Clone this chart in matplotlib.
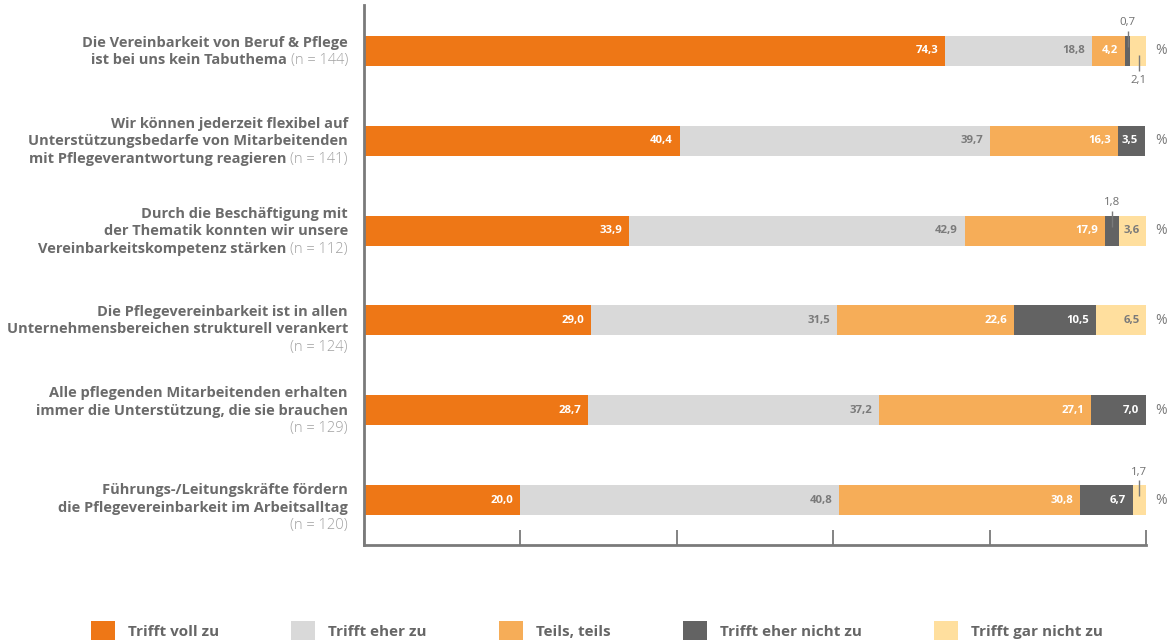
import matplotlib
matplotlib.use("Agg")
import matplotlib.pyplot as plt
from matplotlib.patches import Patch

# ---------------- data ----------------
label_lines = [
    ["Die Vereinbarkeit von Beruf & Pflege", "ist bei uns kein Tabuthema"],
    ["Wir können jederzeit flexibel auf", "Unterstützungsbedarfe von Mitarbeitenden",
     "mit Pflegeverantwortung reagieren"],
    ["Durch die Beschäftigung mit", "der Thematik konnten wir unsere",
     "Vereinbarkeitskompetenz stärken"],
    ["Die Pflegevereinbarkeit ist in allen", "Unternehmensbereichen strukturell verankert"],
    ["Alle pflegenden Mitarbeitenden erhalten", "immer die Unterstützung, die sie brauchen"],
    ["Führungs-/Leitungskräfte fördern", "die Pflegevereinbarkeit im Arbeitsalltag"],
]
n_values = [144, 141, 112, 124, 129, 120]
n_inline = [True, True, True, False, False, False]

series_names = ["Trifft voll zu", "Trifft eher zu", "Teils, teils",
                "Trifft eher nicht zu", "Trifft gar nicht zu"]
voll = [74.3, 40.4, 33.9, 29.0, 28.7, 20.0]
eher = [18.8, 39.7, 42.9, 31.5, 37.2, 40.8]
teils = [4.2, 16.3, 17.9, 22.6, 27.1, 30.8]
eher_nicht = [0.7, 3.5, 1.8, 10.5, 7.0, 6.7]
gar_nicht = [2.1, 0.0, 3.6, 6.5, 0.0, 1.7]

# ---------------- style ----------------
colors = ["#EE7716", "#D9D9D9", "#F6AD58", "#636363", "#FFDF9E"]
value_colors = ["white", "#7a7a7a", "white", "white", "#7a7a7a"]
label_color = "#6b6b6b"
n_color = "#a0a0a0"
axis_color = "#7a7a7a"
FONT = "Open Sans"
plt.rcParams["font.family"] = [FONT, "DejaVu Sans"]

fig = plt.figure(figsize=(11.73, 6.43), dpi=100, facecolor="white")
ax = fig.add_axes([364 / 1173, 1 - 545 / 643, (1146 - 364) / 1173, 540 / 643])

series = [voll, eher, teils, eher_nicht, gar_nicht]
nrows = len(voll)
ypos = list(range(nrows))
bar_h = 30 / 90

lefts = [0.0] * nrows
for s_idx, vals in enumerate(series):
    ax.barh(ypos, vals, left=lefts, height=bar_h, color=colors[s_idx], linewidth=0)
    lefts = [l + v for l, v in zip(lefts, vals)]

ax.set_xlim(0, 100)
ax.set_ylim(nrows - 0.5, -0.511)

fig.canvas.draw()
renderer = fig.canvas.get_renderer()
bbox = ax.get_window_extent(renderer)
ppu = bbox.height / (nrows - 0.5 + 0.511)  # pixels per y unit

LBL = 10.5
VAL = 8.2

# value labels
for i in range(nrows):
    left = 0.0
    small_count = 0
    for s_idx, vals in enumerate(series):
        v = vals[i]
        if v <= 0:
            continue
        txt = f"{v:.1f}".replace(".", ",")
        if v >= 3:
            ax.annotate(txt, xy=(left + v, i), xytext=(-5, 0), textcoords="offset points",
                        ha="right", va="center", fontsize=VAL, fontweight="bold",
                        color=value_colors[s_idx], annotation_clip=False)
        else:
            xc = left + v / 2
            if small_count == 0:
                y0, y1, ly = -20, -4, -28
            else:
                y0, y1, ly = 4, 20, 30
            small_count += 1
            ax.plot([xc, xc], [i + y0 / ppu, i + y1 / ppu], color=axis_color, lw=1,
                    solid_capstyle="butt", zorder=5, clip_on=False)
            ax.text(xc, i + ly / ppu, txt, ha="center", va="center", fontsize=VAL,
                    color="#6f6f6f", clip_on=False)
        left += v
    ax.annotate("%", xy=(100, i), xytext=(6.5, 0), textcoords="offset points",
                ha="left", va="center", fontsize=10, color=axis_color,
                annotation_clip=False)

# category labels
line_px = 17.5
row_shift = [0, 0, 0, 8.5, 0, 7]
x_off_pt = -16 * 0.72
for i in range(nrows):
    lines = label_lines[i]
    L = len(lines) + (0 if n_inline[i] else 1)
    offs = [row_shift[i] + (k - (L - 1) / 2) * line_px + 4.5 for k in range(L)]
    ntxt = f"(n = {n_values[i]})"
    for k, line in enumerate(lines):
        off_pt = -offs[k] * 0.72
        if n_inline[i] and k == len(lines) - 1:
            t = ax.annotate(ntxt, xy=(0, i), xytext=(x_off_pt, off_pt),
                            textcoords="offset points", ha="right", va="baseline",
                            fontsize=LBL, fontweight="light", color=n_color)
            w = t.get_window_extent(renderer).width * 0.72
            ax.annotate(line, xy=(0, i), xytext=(x_off_pt - w - 3, off_pt),
                        textcoords="offset points", ha="right", va="baseline",
                        fontsize=LBL, fontweight="bold", color=label_color)
        else:
            ax.annotate(line, xy=(0, i), xytext=(x_off_pt, off_pt),
                        textcoords="offset points", ha="right", va="baseline",
                        fontsize=LBL, fontweight="bold", color=label_color)
    if not n_inline[i]:
        ax.annotate(ntxt, xy=(0, i), xytext=(x_off_pt, -offs[-1] * 0.72),
                    textcoords="offset points", ha="right", va="baseline",
                    fontsize=LBL, fontweight="light", color=n_color)

# axes styling
for s in ["top", "right"]:
    ax.spines[s].set_visible(False)
for s in ["left", "bottom"]:
    ax.spines[s].set_color(axis_color)
    ax.spines[s].set_linewidth(2)
ax.set_yticks([])
ax.set_xticks([0, 20, 40, 60, 80, 100])
ax.tick_params(axis="x", direction="in", length=11, width=1.3, color=axis_color,
               labelbottom=False)

# legend
handles = [Patch(facecolor=c, edgecolor="none") for c in colors]
fig.legend(handles, series_names, loc="center left",
           bbox_to_anchor=(91 / 1173, 1 - 630.5 / 643), ncol=5, frameon=False,
           handlelength=1.55, handleheight=1.55, handletextpad=0.85,
           columnspacing=4.75, borderpad=0, borderaxespad=0,
           prop={"family": FONT, "weight": "bold", "size": 11},
           labelcolor="#666666")

fig.savefig("out.png", dpi=100, facecolor="white")
